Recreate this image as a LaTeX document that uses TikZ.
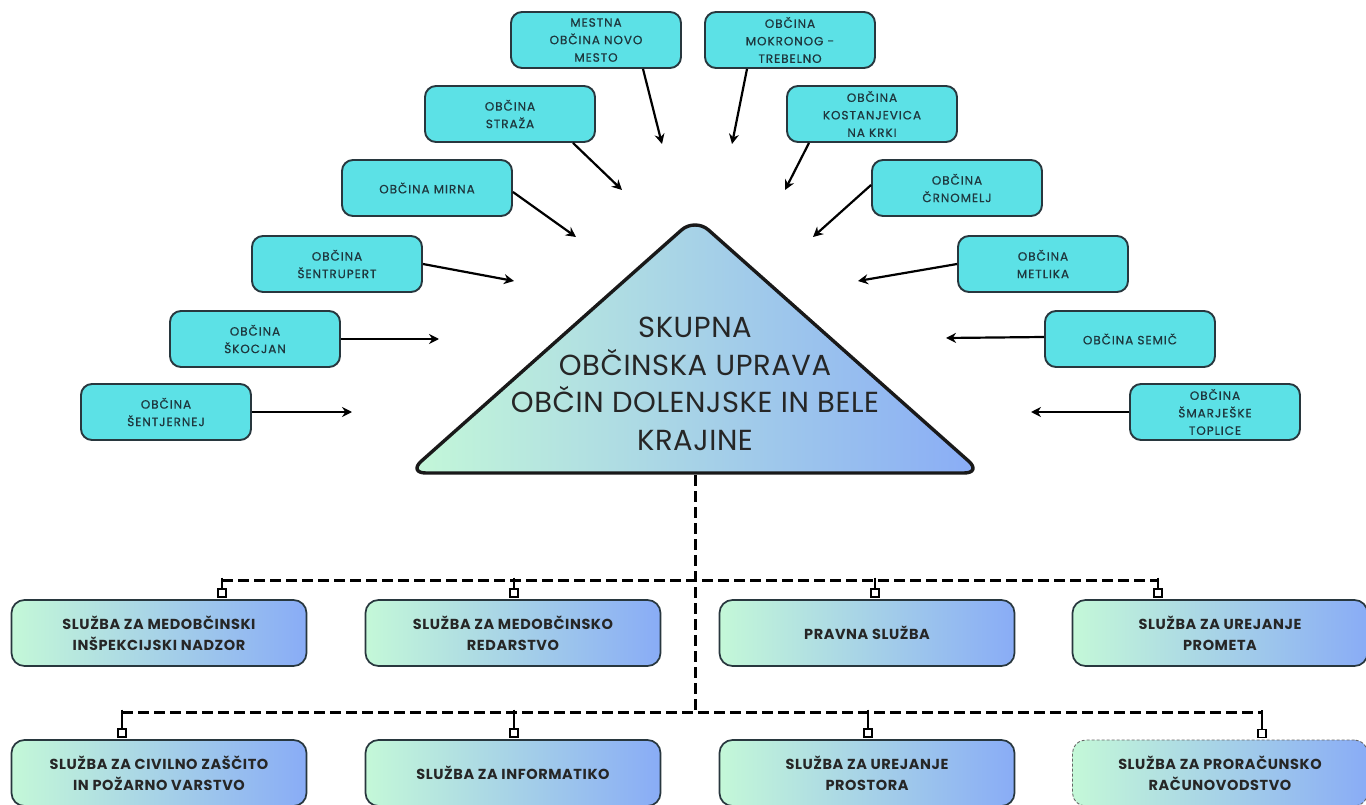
\documentclass[tikz,border=0pt]{standalone}
\usepackage{fontspec}
\setmainfont{Poppins}
\newfontfamily\boxfont[LetterSpace=8,FakeBold=0.8]{Poppins}
\newfontfamily\botfont[LetterSpace=4]{Poppins}
\newfontfamily\trifont[LetterSpace=2]{Poppins}
\usetikzlibrary{arrows.meta,calc}
\definecolor{cyanbox}{RGB}{92,225,230}
\definecolor{edgec}{RGB}{40,55,62}
\definecolor{txtc}{RGB}{30,55,62}
\definecolor{gleft}{RGB}{196,248,216}
\definecolor{gright}{RGB}{137,172,246}
\tikzset{
  topbox/.style={draw=edgec, line width=1.9pt, fill=cyanbox, rounded corners=11pt,
    minimum width=170pt, minimum height=56pt, align=center, text=txtc,
    font=\boxfont\fontsize{12}{17.5}\selectfont, inner sep=0pt},
  botbox/.style={draw=edgec, line width=1.7pt, left color=gleft, right color=gright,
    rounded corners=13pt, minimum width=295pt, minimum height=66pt, align=center,
    text=black!85, font=\botfont\bfseries\fontsize{14.5}{21}\selectfont, inner sep=0pt},
  arr/.style={line width=2.2pt, -{Stealth[length=10pt,width=10pt]}},
  dashline/.style={line width=3pt, dash pattern=on 11pt off 5pt},
  dropline/.style={line width=2.4pt},
  sq/.style={draw=black, line width=1.8pt, fill=white, minimum size=8pt, inner sep=0pt}
}
\begin{document}
\begin{tikzpicture}[x=1pt,y=-1pt]
\useasboundingbox (0,0) rectangle (1366,805);
\fill[white] (0,0) rectangle (1366,805);

% triangle
\coordinate (A) at (695,218);
\coordinate (L) at (408,473);
\coordinate (R) at (982,473);
\shade[left color=gleft, right color=gright, draw=black!90, line width=3.4pt, rounded corners=18pt]
  (A) -- (R) -- (L) -- cycle;
\node[align=center, font=\trifont\fontsize{29}{37.6}\selectfont, text=black!85] (tri) at (695,384)
  {SKUPNA\\OBČINSKA UPRAVA\\OBČIN DOLENJSKE IN BELE\\KRAJINE};

% top boxes
\node[topbox] (nm) at (596,40) {MESTNA\\OBČINA NOVO\\MESTO};
\node[topbox] (mk) at (790,40) {OBČINA\\MOKRONOG -\\TREBELNO};
\node[topbox] (st) at (510,114) {OBČINA\\STRAŽA};
\node[topbox] (ko) at (872,114) {OBČINA\\KOSTANJEVICA\\NA KRKI};
\node[topbox] (mi) at (427,188) {OBČINA MIRNA};
\node[topbox] (cr) at (957,188) {OBČINA\\ČRNOMELJ};
\node[topbox] (se) at (337,264) {OBČINA\\ŠENTRUPERT};
\node[topbox] (me) at (1043,264) {OBČINA\\METLIKA};
\node[topbox] (sk) at (255,339) {OBČINA\\ŠKOCJAN};
\node[topbox] (sm) at (1130,339) {OBČINA SEMIČ};
\node[topbox] (sj) at (166,412) {OBČINA\\ŠENTJERNEJ};
\node[topbox] (ms) at (1215,412) {OBČINA\\ŠMARJEŠKE\\TOPLICE};

% arrow ends
\coordinate (e1) at (662,144);
\coordinate (e2) at (732,144);
\coordinate (e3) at (622,190);
\coordinate (e4) at (785,190);
\coordinate (e5) at (576,237);
\coordinate (e6) at (813,237);
\coordinate (e7) at (514,281);
\coordinate (e8) at (858,281);
\coordinate (e9) at (439,339);
\coordinate (e10) at (946,338);
\coordinate (e11) at (352,412);
\coordinate (e12) at (1031,412);

\draw[arr] ([xshift=47pt]nm.south) -- (e1);
\draw[arr] ([xshift=-43pt]mk.south) -- (e2);
\draw[arr] ([xshift=63pt]st.south) -- (e3);
\draw[arr] ([xshift=-63pt]ko.south) -- (e4);
\draw[arr] ([yshift=-4pt]mi.east) -- (e5);
\draw[arr] ([yshift=3pt]cr.west) -- (e6);
\draw[arr] (se.east) -- (e7);
\draw[arr] (me.west) -- (e8);
\draw[arr] (sk.east) -- (e9);
\draw[arr] ([yshift=2pt]sm.west) -- (e10);
\draw[arr] (sj.east) -- (e11);
\draw[arr] (ms.west) -- (e12);

% bottom boxes
\node[botbox] (b1) at (159,633) {SLUŽBA ZA MEDOBČINSKI\\INŠPEKCIJSKI NADZOR};
\node[botbox] (b2) at (513,633) {SLUŽBA ZA MEDOBČINSKO\\REDARSTVO};
\node[botbox] (b3) at (867,633) {PRAVNA SLUŽBA};
\node[botbox] (b4) at (1220,633) {SLUŽBA ZA UREJANJE\\PROMETA};
\node[botbox] (c1) at (159,773) {SLUŽBA ZA CIVILNO ZAŠČITO\\IN POŽARNO VARSTVO};
\node[botbox] (c2) at (513,773) {SLUŽBA ZA INFORMATIKO};
\node[botbox] (c3) at (867,773) {SLUŽBA ZA UREJANJE\\PROSTORA};
\node[botbox, draw=black!60, line width=0.9pt, dash pattern=on 3pt off 2pt] (c4) at (1220,773) {SLUŽBA ZA PRORAČUNSKO\\RAČUNOVODSTVO};

% trunk and bus lines
\coordinate (tb) at (695,475);
\coordinate (t2) at (695,712);
\draw[dashline] (tb) -- (t2);
\coordinate (h1l) at (222,580);
\coordinate (h1r) at (1158,580);
\coordinate (h2l) at (122,712);
\coordinate (h2r) at (1262,712);
\draw[dashline] (h1l) -- (h1r);
\draw[dashline] (h2l) -- (h2r);

% drops row 1
\foreach \b/\dx in {b1/63, b2/1, b3/8, b4/-62}{
  \draw[dropline] ([xshift=\dx pt]\b.north) ++(0,-21.5) -- ([xshift=\dx pt, yshift=7pt]\b.north);
  \node[sq] at ([xshift=\dx pt, yshift=6pt]\b.north) {};
}
% drops row 2
\foreach \b/\dx in {c1/-37, c2/1, c3/1, c4/42}{
  \draw[dropline] ([xshift=\dx pt]\b.north) ++(0,-29.5) -- ([xshift=\dx pt, yshift=7pt]\b.north);
  \node[sq] at ([xshift=\dx pt, yshift=6pt]\b.north) {};
}
\end{tikzpicture}
\end{document}
